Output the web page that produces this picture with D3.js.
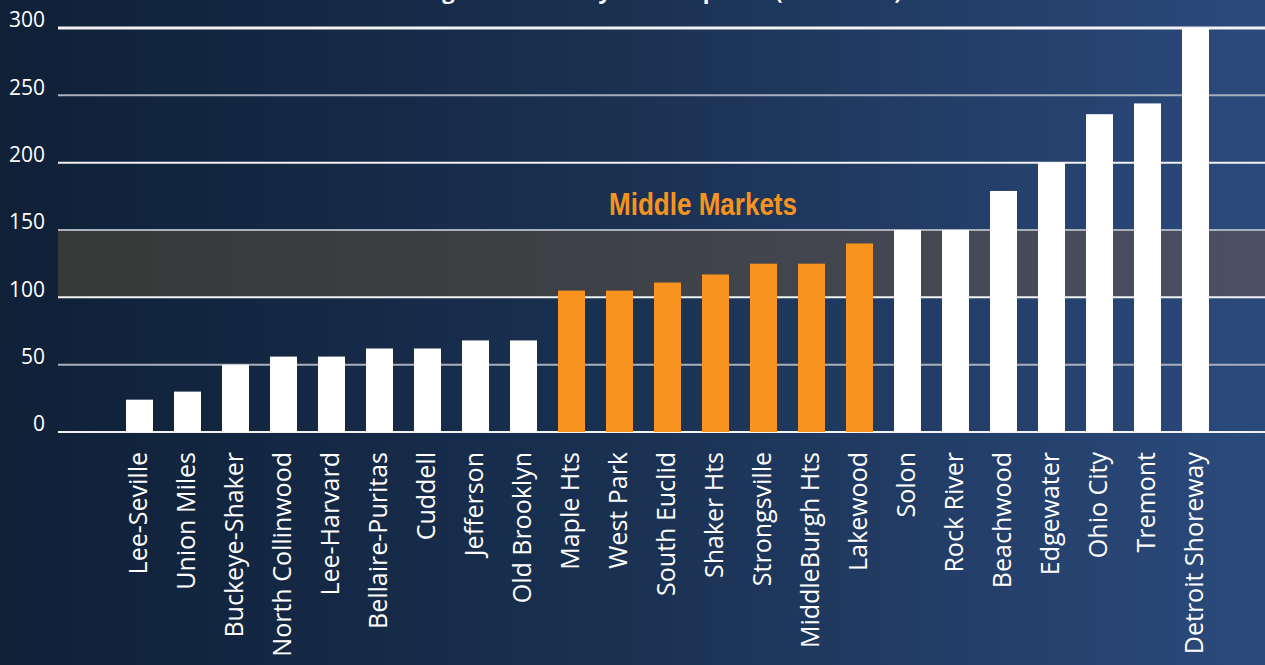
<!DOCTYPE html>
<html><head><meta charset="utf-8">
<script src="https://cdn.jsdelivr.net/npm/d3@7"></script>
<style>html,body{margin:0;padding:0;background:#10213a;overflow:hidden}</style>
</head><body>
<svg id="c" width="1265" height="665"></svg>
<script>
const categories = ["Lee-Seville","Union Miles","Buckeye-Shaker","North Collinwood","Lee-Harvard","Bellaire-Puritas","Cuddell","Jefferson","Old Brooklyn","Maple Hts","West Park","South Euclid","Shaker Hts","Strongsville","MiddleBurgh Hts","Lakewood","Solon","Rock River","Beachwood","Edgewater","Ohio City","Tremont","Detroit Shoreway"];
const values = [24,30,50,56,56,62,62,68,68,105,105,111,117,125,125,140,150,150,179,200,236,244,300];
const middleMarkets = ["Maple Hts","West Park","South Euclid","Shaker Hts","Strongsville","MiddleBurgh Hts","Lakewood"];
const yTicks = [0,50,100,150,200,250,300];
const bandRange = [100,150];
const bandLabel = "Middle Markets";
const title = "Average Sale Price by Market per SF (2012–2016)";

const svg = d3.select("#c");
const W = 1265, H = 665;
const defs = svg.append("defs");
const bg = defs.append("linearGradient").attr("id","bg").attr("x1","0").attr("x2","1").attr("y1","0").attr("y2","0");
bg.append("stop").attr("offset","0").attr("stop-color","#0f2037");
bg.append("stop").attr("offset","0.5").attr("stop-color","#1a3152");
bg.append("stop").attr("offset","1").attr("stop-color","#2b4a7c");
const bandG = defs.append("linearGradient").attr("id","band").attr("x1","0").attr("x2","1").attr("y1","0").attr("y2","0");
bandG.append("stop").attr("offset","0").attr("stop-color","#373838");
bandG.append("stop").attr("offset","0.5").attr("stop-color","#3f4247");
bandG.append("stop").attr("offset","1").attr("stop-color","#4c5064");

svg.append("rect").attr("width",W).attr("height",H).attr("fill","url(#bg)");

const x0 = 58, x1 = 1265;
const x = d3.scaleBand().domain(categories).range([115.5,1219.5]).paddingInner(0.4375).paddingOuter(0.21875);
const y = d3.scaleLinear().domain([0,300]).range([432,28]);

// band
svg.append("rect").attr("x",x0).attr("width",x1-x0)
  .attr("y",y(bandRange[1])).attr("height",y(bandRange[0])-y(bandRange[1]))
  .attr("fill","url(#band)");

// gridlines
svg.append("g").selectAll("line").data(yTicks).join("line")
  .attr("x1",x0).attr("x2",x1).attr("y1",d=>y(d)).attr("y2",d=>y(d))
  .attr("stroke",d=> (d%100===0) ? "#f2f2f2" : "#a9b0bc")
  .attr("stroke-width",d=> d===300 ? 3 : 2);

// y axis labels
const yAxis = d3.axisLeft(y).tickValues(yTicks).tickSize(0).tickPadding(0);
const ya = svg.append("g").attr("transform","translate(45,0)").call(yAxis);
ya.select(".domain").remove();
ya.selectAll("text").attr("fill","#ffffff").attr("font-family","'Open Sans', 'Noto Sans', sans-serif")
  .attr("font-size",21).attr("dy","-0.05em");

// title (cut off at top, as in the reference)
svg.append("text").attr("x",640).attr("y",-1).attr("text-anchor","middle")
  .attr("fill","#fff").attr("font-family","'Open Sans', sans-serif").attr("font-weight","bold").attr("font-size",22)
  .text(title);

// band label
svg.append("text").attr("x",703).attr("y",215).attr("text-anchor","middle")
  .attr("fill","#f7931e").attr("font-family","'Liberation Sans Narrow','Liberation Sans',Arial,sans-serif")
  .attr("font-weight","bold").attr("font-size",32)
  .attr("textLength",188).attr("lengthAdjust","spacingAndGlyphs")
  .text(bandLabel);

// bars
svg.append("g").selectAll("rect").data(categories).join("rect")
  .attr("x",d=>x(d)).attr("width",x.bandwidth())
  .attr("y",(d,i)=>y(values[i])).attr("height",(d,i)=>y(0)-y(values[i]))
  .attr("fill",d=> middleMarkets.includes(d) ? "#f7931e" : "#ffffff");

// x labels
const xAxis = d3.axisBottom(x).tickSize(0).tickPadding(0);
const xa = svg.append("g").attr("transform","translate(0,452)").call(xAxis);
xa.select(".domain").remove();
xa.selectAll("text")
  .attr("fill","#ffffff").attr("font-family","'Open Sans','Noto Sans',sans-serif").attr("font-size",25)
  .attr("text-anchor","end").attr("dominant-baseline","central").attr("dy",null)
  .attr("transform","translate(-3,0) rotate(-90)").attr("x",0).attr("y",0);
</script>
</body></html>
